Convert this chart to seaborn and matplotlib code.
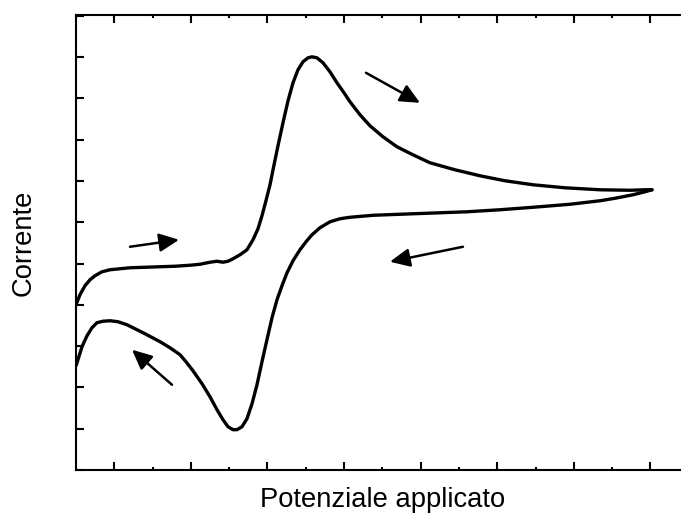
import numpy as np
import pandas as pd
import matplotlib
matplotlib.use("Agg")
import matplotlib.pyplot as plt
import seaborn as sns
from matplotlib.ticker import MultipleLocator, NullFormatter

# ---- data (arbitrary units) ----
fwd_x = [0.000, 0.052, 0.117, 0.183, 0.248, 0.339, 0.444, 0.574, 0.705, 0.901,
         1.097, 1.292, 1.488, 1.619, 1.749, 1.841, 1.919, 1.984, 2.050, 2.141,
         2.232, 2.311, 2.376, 2.428, 2.480, 2.533, 2.572, 2.637, 2.702, 2.768,
         2.833, 2.898, 2.963, 3.029, 3.081, 3.146, 3.225, 3.316, 3.407, 3.499,
         3.577, 3.708, 3.838, 4.008, 4.191, 4.399, 4.621, 4.948, 5.274, 5.601,
         5.966, 6.384, 6.841, 7.232, 7.428, 7.520]
fwd_y = [3.002, 3.245, 3.462, 3.608, 3.705, 3.801, 3.850, 3.874, 3.898, 3.910,
         3.923, 3.935, 3.959, 3.983, 4.032, 4.056, 4.032, 4.056, 4.116, 4.213,
         4.334, 4.576, 4.843, 5.157, 5.521, 5.908, 6.271, 6.852, 7.409, 7.942,
         8.378, 8.692, 8.886, 8.983, 9.007, 8.983, 8.862, 8.644, 8.378, 8.136,
         7.918, 7.603, 7.337, 7.070, 6.828, 6.634, 6.441, 6.271, 6.126, 6.005,
         5.908, 5.835, 5.787, 5.775, 5.787, 5.787]

rev_x = [7.520, 7.428, 7.272, 7.037, 6.841, 6.449, 5.966, 5.535, 5.104, 4.752,
         4.230, 3.877, 3.577, 3.446, 3.316, 3.185, 3.081, 3.003, 2.924, 2.833,
         2.755, 2.689, 2.624, 2.559, 2.493, 2.428, 2.363, 2.298, 2.232, 2.167,
         2.102, 2.050, 1.984, 1.919, 1.841, 1.749, 1.645, 1.527, 1.436, 1.358,
         1.227, 1.097, 0.901, 0.666, 0.548, 0.444, 0.352, 0.274, 0.209, 0.144,
         0.078, 0.013, 0.000]
rev_y = [5.787, 5.739, 5.666, 5.581, 5.521, 5.436, 5.363, 5.303, 5.254, 5.230,
         5.194, 5.169, 5.121, 5.085, 5.012, 4.867, 4.697, 4.528, 4.334, 4.068,
         3.777, 3.462, 3.123, 2.688, 2.155, 1.622, 1.065, 0.605, 0.242, 0.048,
         -0.024, -0.024, 0.048, 0.218, 0.460, 0.775, 1.090, 1.404, 1.622, 1.792,
         1.961, 2.107, 2.300, 2.518, 2.591, 2.615, 2.603, 2.567, 2.446, 2.252,
         1.985, 1.598, 1.525]

# arrows: tails and tips
arrow_tails = [(0.705, 4.407), (3.786, 8.620), (5.052, 4.407), (1.253, 1.065)]
arrow_tips = [(1.345, 4.576), (4.491, 7.893), (4.099, 4.044), (0.731, 1.913)]

x_label = "Potenziale applicato"
y_label = "Corrente"

df = pd.concat([
    pd.DataFrame({"E": fwd_x, "I": fwd_y, "branch": "fwd"}),
    pd.DataFrame({"E": rev_x, "I": rev_y, "branch": "rev"}),
])

sns.set_style("ticks")
plt.rcParams["font.family"] = ["Liberation Sans", "DejaVu Sans"]

fig = plt.figure(figsize=(6.81, 5.13), dpi=100)
ax = fig.add_axes([76 / 681, 1 - 470 / 513, (689 - 76) / 681, (470 - 15) / 513])

for b in ["fwd", "rev"]:
    sns.lineplot(data=df[df.branch == b], x="E", y="I", sort=False, ax=ax,
                 color="black", lw=2.4, estimator=None)

for (tx, ty), (hx, hy) in zip(arrow_tails, arrow_tips):
    ax.annotate("", xy=(hx, hy), xytext=(tx, ty),
                arrowprops=dict(arrowstyle="-|>,head_length=0.6,head_width=0.28",
                                mutation_scale=20, lw=1.8, color="black",
                                shrinkA=0, shrinkB=0))

ax.set_xlim(0.0, 8.003)
ax.set_ylim(-1.0, 10.02)
ax.xaxis.set_major_locator(MultipleLocator(1, offset=0.5))
ax.xaxis.set_minor_locator(MultipleLocator(0.5))
ax.yaxis.set_major_locator(MultipleLocator(2))
ax.yaxis.set_minor_locator(MultipleLocator(1))
ax.xaxis.set_major_formatter(NullFormatter())
ax.yaxis.set_major_formatter(NullFormatter())
ax.tick_params(which="both", color="black")
ax.tick_params(which="major", direction="in", length=6, width=1.5,
               top=True, right=True, bottom=True, left=True)
ax.tick_params(axis="x", which="minor", direction="in", length=2.5, width=1.5,
               top=True, bottom=True)
ax.tick_params(axis="y", which="minor", direction="in", length=6, width=1.5,
               left=True, right=False)
for name, s in ax.spines.items():
    s.set_linewidth(1.5)
    s.set_color("black")
    s.set_visible(name != "right")

ax.set_xlabel(x_label, fontsize=19.7, labelpad=9, color="black")
ax.set_ylabel(y_label, fontsize=19.7, labelpad=25, color="black")

fig.savefig("out.png", dpi=100)
